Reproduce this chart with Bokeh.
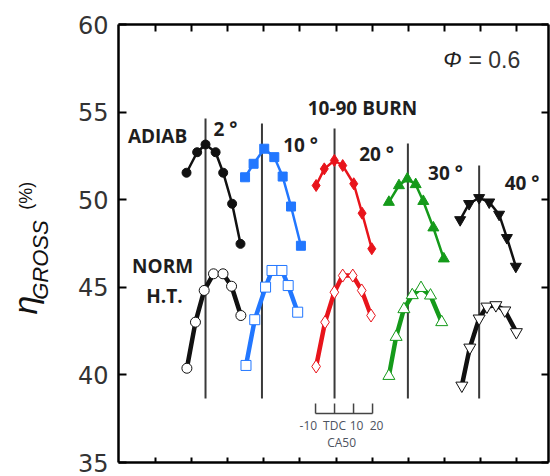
import numpy as np
from bokeh.plotting import figure
from bokeh.layouts import row
from bokeh.models import Range1d, LinearAxis, FixedTicker, Label
from bokeh.embed import file_html
from bokeh.resources import INLINE
from bokeh.core.properties import value

# ---- data -------------------------------------------------------------
burn_labels = ["2 °", "10 °", "20 °", "30 °", "40 °"]
tdc_pos = [26.3, 56.0, 94.2, 132.8, 170.3]          # axis position of each group's TDC
line_tops = [54.63, 54.35, 54.06, 53.21, 51.95]
line_bottom = 38.65

colors = ["#111111", "#2277ff", "#e8141b", "#159a1a", "#111111"]
markers = ["circle", "square", "diamond", "triangle", "inverted_triangle"]
sizes = [9, 9, 12, 11, 11]

# CA50 (deg aTDC) and gross efficiency (%) - adiabatic
ca50_adiab_2 = [-10, -4.4, 0, 5.3, 9.3, 14, 18.4]
eta_adiab_2 = [51.54, 52.71, 53.15, 52.71, 51.54, 49.77, 47.48]
ca50_adiab_10 = [-8.9, -4.4, 1.2, 6.5, 10.9, 15.3, 20.5]
eta_adiab_10 = [51.28, 52.05, 52.91, 52.43, 51.32, 49.61, 47.37]
ca50_adiab_20 = [-9.7, -5.4, -0.1, 4.3, 10.1, 14.5, 19.6]
eta_adiab_20 = [50.81, 51.76, 52.24, 51.95, 50.91, 49.23, 47.20]
ca50_adiab_30 = [-10, -4.7, -0.3, 4.1, 8.1, 13.4, 18.9]
eta_adiab_30 = [49.86, 50.81, 51.19, 50.87, 49.91, 48.40, 46.63]
ca50_adiab_40 = [-10, -5.3, 0, 5.3, 10.5, 14.6, 19.3]
eta_adiab_40 = [48.85, 49.77, 50.11, 49.86, 49.16, 47.83, 46.19]

# normal heat transfer
ca50_norm_2 = [-9.8, -5.3, -0.7, 4.2, 9.2, 13.7, 18.6]
eta_norm_2 = [40.38, 43.01, 44.82, 45.77, 45.77, 45.06, 43.39]
ca50_norm_10 = [-8.4, -3.8, 1.9, 5.3, 10.5, 13.8, 18.8]
eta_norm_10 = [40.54, 43.15, 45.01, 45.96, 45.96, 45.10, 43.58]
ca50_norm_20 = [-9.7, -5, -0.1, 4.3, 9.6, 14.3, 19.2]
eta_norm_20 = [40.48, 43.01, 44.72, 45.67, 45.67, 44.82, 43.39]
ca50_norm_30 = [-10, -6.2, -2.1, 2.3, 6.9, 11.9, 17.8]
eta_norm_30 = [39.94, 42.17, 43.75, 44.55, 44.96, 44.53, 43.01]
ca50_norm_40 = [-9.1, -4.9, 0, 4.1, 8.8, 13.5, 19.6]
eta_norm_40 = [39.39, 41.56, 43.22, 43.90, 43.98, 43.68, 42.44]

ca50_adiab = [ca50_adiab_2, ca50_adiab_10, ca50_adiab_20, ca50_adiab_30, ca50_adiab_40]
eta_adiab = [eta_adiab_2, eta_adiab_10, eta_adiab_20, eta_adiab_30, eta_adiab_40]
ca50_norm = [ca50_norm_2, ca50_norm_10, ca50_norm_20, ca50_norm_30, ca50_norm_40]
eta_norm = [eta_norm_2, eta_norm_10, eta_norm_20, eta_norm_30, eta_norm_40]

scale_ticks = [-10, 0, 10, 20]
scale_labels = ["-10", "TDC", "10", "20"]

x_ticks = [0, 19, 38, 57, 76, 95, 114, 133, 152, 171, 190]
y_ticks = [35, 40, 45, 50, 55, 60]

# ---- y-axis title strip ------------------------------------------------
LW = 58
t = figure(width=LW, height=476, x_range=Range1d(0, LW), y_range=Range1d(0, 476),
           output_backend="svg", toolbar_location=None,
           min_border_left=0, min_border_right=0, min_border_top=0, min_border_bottom=0)
t.axis.visible = False
t.grid.visible = False
t.outline_line_color = None
t.text(x=[24], y=[476 - 305], text=["η"], angle=np.pi / 2,
       text_font=value("Liberation Sans"), text_font_style="italic",
       text_font_size="34px", text_color="#111111",
       text_align="center", text_baseline="middle")
t.text(x=[40], y=[476 - 256], text=["GROSS"], angle=np.pi / 2,
       text_font=value("Liberation Sans"), text_font_style="italic",
       text_font_size="22px", text_color="#111111",
       text_align="center", text_baseline="middle")
t.text(x=[25], y=[476 - 186], text=["(%)"], angle=np.pi / 2,
       text_font=value("Liberation Sans"), text_font_style="normal",
       text_font_size="18px", text_color="#111111",
       text_align="center", text_baseline="middle")

# ---- main figure --------------------------------------------------------
p = figure(width=550 - LW, height=476, x_range=Range1d(-19.5, 206.8), y_range=Range1d(35, 60),
           output_backend="svg", toolbar_location=None,
           min_border_left=118 - LW, min_border_right=2, min_border_top=24, min_border_bottom=14)
p.grid.visible = False
p.outline_line_color = None

AX_W = 2.5

def style_frame_axis(ax, ticks, tin):
    # ticks drawn as (label-free) minor ticks pointing into the frame
    ax.ticker = FixedTicker(ticks=[], minor_ticks=ticks)
    ax.major_tick_out = 0
    ax.major_tick_in = 0
    ax.minor_tick_out = 0
    ax.minor_tick_in = tin
    ax.minor_tick_line_width = 2
    ax.minor_tick_line_color = "black"
    ax.major_label_standoff = 0
    ax.axis_line_width = AX_W
    ax.axis_line_color = "black"

style_frame_axis(p.xaxis[0], x_ticks, 5)

ly = p.yaxis[0]
ly.ticker = FixedTicker(ticks=y_ticks, minor_ticks=[])
ly.major_tick_out = 0
ly.major_tick_in = 8
ly.minor_tick_out = 0
ly.minor_tick_in = 0
ly.major_tick_line_width = 2
ly.axis_line_width = AX_W
ly.axis_line_color = "black"
ly.major_label_text_font = "DejaVu Sans"
ly.major_label_text_font_size = "24px"
ly.major_label_text_color = "#333333"
ly.major_label_standoff = 10

top = LinearAxis()
style_frame_axis(top, x_ticks, 7)
p.add_layout(top, "above")
right = LinearAxis()
style_frame_axis(right, y_ticks, 7)
p.add_layout(right, "right")

# vertical TDC lines
p.segment(x0=tdc_pos, x1=tdc_pos, y0=[line_bottom] * 5, y1=line_tops,
          line_color="#3a3a3a", line_width=2)

for i in range(5):
    c = colors[i]
    xa = [tdc_pos[i] + v for v in ca50_adiab[i]]
    xn = [tdc_pos[i] + v for v in ca50_norm[i]]
    p.line(xn, eta_norm[i], line_color=c, line_width=4.5)
    p.scatter(xn, eta_norm[i], marker=markers[i], size=sizes[i] + 1,
              fill_color="white", line_color=c, line_width=1)
    p.line(xa, eta_adiab[i], line_color=c, line_width=2.5)
    p.scatter(xa, eta_adiab[i], marker=markers[i], size=sizes[i],
              fill_color=c, line_color=c)

# ---- annotations ------------------------------------------------------
def lab(x, y, txt, size="19px", font="Open Sans", style="bold", color="#1e1e1e",
        align="center"):
    p.add_layout(Label(x=x, y=y, text=txt, text_font=font, text_font_size=size,
                       text_font_style=style, text_color=color, text_align=align,
                       text_baseline="middle"))

lab(1.05, 53.66, "ADIAB")
lab(3.7, 46.24, "NORM")
lab(4.7, 44.53, "H.T.")
lab(108.9, 55.21, "10-90 BURN")
label_xy = [(36.8, 54.04), (76.3, 53.15), (116.3, 52.58), (152.6, 51.55), (192.9, 50.98)]
for (lx, ly_), txt in zip(label_xy, burn_labels):
    lab(lx, ly_, txt)

lab(156.3, 58.0, "Φ", size="22px", font="Liberation Sans", style="italic", color="#222222")
lab(164.7, 58.0, "= 0.6", size="23px", font="Liberation Sans", style="normal",
    color="#333333", align="left")

# CA50 scale bracket
ref = tdc_pos[2]
sx = [ref + v for v in scale_ticks]
p.line([sx[0], sx[-1]], [37.80, 37.80], line_color="#444444", line_width=1.5)
p.segment(x0=sx, x1=sx, y0=[37.80] * 4, y1=[38.37] * 4, line_color="#444444", line_width=1.5)
shift = [-3.8, 0, 1.6, 2.1]
for v, txt, s in zip(scale_ticks, scale_labels, shift):
    lab(ref + v + s, 37.11, txt, size="12px", style="normal", color="#4d5360")
lab(ref + 3.7, 36.14, "CA50", size="12px", style="normal", color="#4d5360")

layout = row(t, p, spacing=0)
open("out.html", "w").write(file_html(layout, INLINE))
